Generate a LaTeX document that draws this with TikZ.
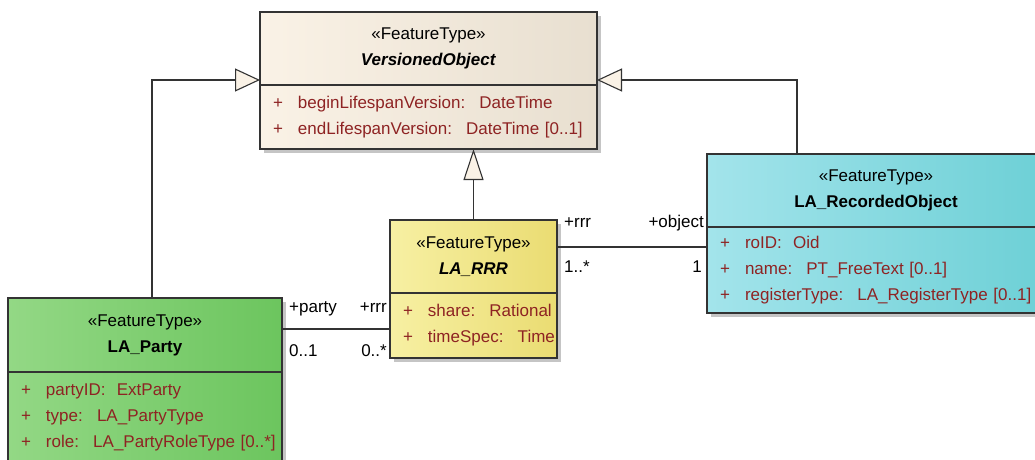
\documentclass[tikz,border=0pt]{standalone}
\usepackage{fontspec}
\setmainfont{Liberation Sans}
\usetikzlibrary{positioning, calc, arrows.meta, shadows}
\definecolor{vo_left}{HTML}{FAF2E6}
\definecolor{vo_right}{HTML}{E8DFD0}
\definecolor{rrr_left}{HTML}{F7F0A3}
\definecolor{rrr_right}{HTML}{EADC72}
\definecolor{party_left}{HTML}{93D885}
\definecolor{party_right}{HTML}{6CC55E}
\definecolor{rec_left}{HTML}{A3E4EB}
\definecolor{rec_right}{HTML}{6DD0D6}
\definecolor{attr_red}{HTML}{8E2323}
\definecolor{line_grey}{HTML}{333333}
\newcommand{\umlattr}[1]{\mbox{\makebox[25pt][l]{+}#1}}

\begin{document}
\begin{tikzpicture}[
    x=1pt, y=-1pt,
    font=\fontsize{17}{26}\selectfont,
    shade_box/.style={drop shadow={shadow xshift=4pt, shadow yshift=-4pt,
                      fill=black!45, opacity=0.5}},
    head/.style={rectangle, draw=line_grey, line width=1.2pt, outer sep=0pt,
                 inner sep=0pt, align=center, minimum height=73pt, shade_box},
    attrs/.style={rectangle, draw=line_grey, line width=1.2pt, outer sep=0pt,
                  inner xsep=13pt, inner ysep=0pt, align=left, text=attr_red, shade_box},
    vo_col/.style={left color=vo_left, right color=vo_right},
    rrr_col/.style={left color=rrr_left, right color=rrr_right},
    party_col/.style={left color=party_left, right color=party_right},
    rec_col/.style={left color=rec_left, right color=rec_right},
    gen/.style={draw=line_grey, line width=1.1pt,
                -{Triangle[length=25pt, width=23pt, fill=vo_left]}},
    gen_up/.style={draw=line_grey, line width=1.1pt,
                -{Triangle[length=31pt, width=20pt, fill=vo_left]}},
    assoc/.style={draw=line_grey, line width=1.1pt},
    role/.style={inner sep=0pt, text height=12pt, text depth=4pt}
]
\path[use as bounding box, clip] (0,0) rectangle (1035,459);

% VersionedObject
\node[head, vo_col, anchor=north west, minimum width=337pt] (vohead) at (260,12)
     {«FeatureType»\\\textbf{\textit{VersionedObject}}};
\node[attrs, vo_col, below=0pt of vohead, text width=311pt, minimum height=64pt] (voattr)
     {\umlattr{beginLifespanVersion:~ DateTime}\\
      \umlattr{endLifespanVersion:~ DateTime [0..1]}};

% LA_RRR
\node[head, rrr_col, anchor=north west, minimum width=167pt] (rrrhead) at (390,220)
     {«FeatureType»\\\textbf{\textit{LA\_RRR}}};
\node[attrs, rrr_col, below=0pt of rrrhead, text width=141pt, minimum height=65pt] (rrrattr)
     {\umlattr{share:~ Rational}\\
      \umlattr{timeSpec:~ Time}};

% LA_Party
\node[head, party_col, anchor=north west, minimum width=274pt, minimum height=74pt] (partyhead) at (8,298)
     {«FeatureType»\\\textbf{LA\_Party}};
\node[attrs, party_col, below=0pt of partyhead, text width=248pt, minimum height=90pt] (partyattr)
     {\umlattr{partyID:~ ExtParty}\\
      \umlattr{type:~ LA\_PartyType}\\
      \umlattr{role:~ LA\_PartyRoleType [0..*]}};

% LA_RecordedObject
\node[head, rec_col, anchor=north west, minimum width=338pt] (rechead) at (707,154)
     {«FeatureType»\\\textbf{LA\_RecordedObject}};
\node[attrs, rec_col, below=0pt of rechead, text width=312pt, minimum height=86pt] (recattr)
     {\umlattr{roID:~ Oid}\\
      \umlattr{name:~ PT\_FreeText [0..1]}\\
      \umlattr{registerType:~ LA\_RegisterType [0..1]}};

% Generalisations
\draw[gen] ($(partyhead.north west)+(144,0)$) |- ($(vohead.north west)+(0,68)$);
\draw[gen] ($(rechead.north west)+(90,0)$) |- ($(vohead.north east)+(0,68)$);
\draw[gen_up] (rrrhead.north) -- (rrrhead.north |- voattr.south);

% Associations
\coordinate (pa) at ($(partyhead.north east)+(0,31)$);
\coordinate (pb) at (pa -| rrrattr.west);
\draw[assoc] (pa) -- (pb);
\node[role, anchor=west] (partyrole) at ($(pa)+(7,-21)$) {+party};
\node[role, anchor=east] (rrrrole_a) at ($(pb)+(-3,-21)$) {+rrr};
\node[role, anchor=west] (partymult) at ($(pa)+(7,23)$) {0..1};
\node[role, anchor=east] (rrrmult_a) at ($(pb)+(-3,23)$) {0..*};

\coordinate (ra) at ($(rrrhead.north east)+(0,27)$);
\coordinate (rb) at (ra -| rechead.west);
\draw[assoc] (ra) -- (rb);
\node[role, anchor=west] (rrrrole_b) at ($(ra)+(7,-24)$) {+rrr};
\node[role, anchor=east] (objrole) at ($(rb)+(-3,-24)$) {+object};
\node[role, anchor=west] (rrrmult_b) at ($(ra)+(7,21)$) {1..*};
\node[role, anchor=east] (objmult) at ($(rb)+(-5,21)$) {1};

\end{tikzpicture}
\end{document}
